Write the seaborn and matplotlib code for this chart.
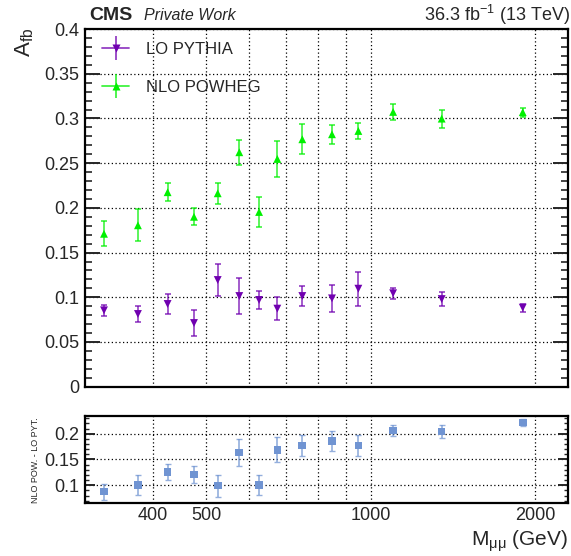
import matplotlib
matplotlib.use("Agg")
import pandas as pd
import matplotlib.pyplot as plt
import seaborn as sns
from matplotlib.lines import Line2D
from matplotlib.legend_handler import HandlerTuple
from matplotlib.ticker import FixedLocator, FixedFormatter, MultipleLocator, NullLocator

# bin centres in M_mumu (GeV)
mass = [325, 375, 425, 475, 525, 575, 625, 675, 750, 850, 950, 1100, 1350, 1900]

afb_lo = [0.0854, 0.0813, 0.0925, 0.0712, 0.1193, 0.1014, 0.0970, 0.0873,
          0.1014, 0.0988, 0.1096, 0.1045, 0.0980, 0.0884]
err_lo = [0.0065, 0.0088, 0.0115, 0.0143, 0.0180, 0.0205, 0.0105, 0.0125,
          0.0113, 0.0150, 0.0190, 0.0060, 0.0080, 0.0045]

afb_nlo = [0.1710, 0.1805, 0.2175, 0.1900, 0.2163, 0.2622, 0.1954, 0.2547,
           0.2767, 0.2823, 0.2860, 0.3073, 0.2998, 0.3070]
err_nlo = [0.0140, 0.0180, 0.0100, 0.0095, 0.0115, 0.0140, 0.0170, 0.0200,
           0.0170, 0.0105, 0.0090, 0.0090, 0.0100, 0.0050]

diff = [0.0875, 0.1006, 0.1260, 0.1207, 0.0992, 0.1636, 0.1006, 0.1688,
        0.1770, 0.1858, 0.1770, 0.2065, 0.2040, 0.2220]
err_diff = [0.0155, 0.0200, 0.0155, 0.0170, 0.0215, 0.0255, 0.0200, 0.0240,
            0.0210, 0.0190, 0.0210, 0.0110, 0.0125, 0.0065]

x_grid = [400, 500, 600, 700, 800, 900, 1000, 2000]
x_labels = ["400", "500", "", "", "", "", "1000", "2000"]

PURPLE = "#7000b0"
GREEN = "#00f000"
BLUE = "#7094d2"

sns.set_style("ticks")
plt.rcParams["font.family"] = ["Liberation Sans", "DejaVu Sans"]
plt.rcParams["mathtext.default"] = "regular"
plt.rcParams["axes.linewidth"] = 1.6

df = pd.DataFrame({"mass": mass, "lo": afb_lo, "nlo": afb_nlo, "diff": diff})

fig = plt.figure(figsize=(5.71, 5.56), dpi=100)
ax = fig.add_axes([0.1489, 0.3045, 0.8459, 0.6433])
ax2 = fig.add_axes([0.1489, 0.0948, 0.8459, 0.1576])

# --- main panel
ax.errorbar(mass, afb_lo, yerr=err_lo, fmt="none", ecolor=PURPLE, elinewidth=1.2,
            capsize=2.5, capthick=1.2, alpha=0.75, zorder=2)
ax.errorbar(mass, afb_nlo, yerr=err_nlo, fmt="none", ecolor=GREEN, elinewidth=1.2,
            capsize=2.5, capthick=1.2, alpha=0.75, zorder=2)
sns.scatterplot(data=df, x="mass", y="lo", marker="v", color=PURPLE, s=32,
                edgecolor="none", ax=ax, zorder=3, legend=False)
sns.scatterplot(data=df, x="mass", y="nlo", marker="^", color=GREEN, s=32,
                edgecolor="none", ax=ax, zorder=3, legend=False)

# --- lower panel
ax2.errorbar(mass, diff, yerr=err_diff, fmt="none", ecolor=BLUE, elinewidth=1.2,
             capsize=2.0, capthick=1.0, alpha=0.75, zorder=2)
sns.scatterplot(data=df, x="mass", y="diff", marker="s", color=BLUE, s=30,
                edgecolor="none", ax=ax2, zorder=3, legend=False)

for a in (ax, ax2):
    a.set_xscale("log")
    a.set_xlim(300, 2300)
    a.xaxis.set_major_locator(FixedLocator(x_grid))
    a.xaxis.set_minor_locator(NullLocator())
    a.grid(True, which="major", color="black", linestyle=(0, (1, 2)), linewidth=0.9)
    a.set_xlabel("")
    a.set_ylabel("")
    a.tick_params(axis="x", length=0)
    for s in a.spines.values():
        s.set_color("black")

ax.xaxis.set_major_formatter(FixedFormatter([""] * len(x_grid)))
ax2.xaxis.set_major_formatter(FixedFormatter(x_labels))

ax.set_ylim(0, 0.4)
ax.set_yticks([0, 0.05, 0.1, 0.15, 0.2, 0.25, 0.3, 0.35, 0.4])
ax.set_yticklabels(["0", "0.05", "0.1", "0.15", "0.2", "0.25", "0.3", "0.35", "0.4"])
ax.yaxis.set_minor_locator(MultipleLocator(0.01))
ax.tick_params(axis="y", which="major", direction="in", length=11, width=1.4,
               right=True, labelsize=13, pad=4)
ax.tick_params(axis="y", which="minor", direction="in", length=5, width=1.2, right=True)

ax2.set_ylim(0.065, 0.235)
ax2.set_yticks([0.1, 0.15, 0.2])
ax2.set_yticklabels(["0.1", "0.15", "0.2"])
ax2.yaxis.set_minor_locator(MultipleLocator(0.01))
ax2.tick_params(axis="y", which="major", direction="in", length=7, width=1.4,
                right=True, labelsize=13, pad=4)
ax2.tick_params(axis="y", which="minor", direction="in", length=3, width=1.0, right=True)
ax2.tick_params(axis="x", labelsize=13, pad=3)

# legend: marker with vertical + horizontal error bar, overlaid
def entry(color, marker):
    hline = Line2D([], [], color=color, lw=1.3, alpha=0.75)
    vline = Line2D([], [], color=color, marker="|", markersize=17, mew=1.3, lw=0, alpha=0.75)
    mk = Line2D([], [], color=color, marker=marker, markersize=6, lw=0, mec="none")
    return (hline, vline, mk)

ax.legend([entry(PURPLE, "v"), entry(GREEN, "^")], ["LO PYTHIA", "NLO POWHEG"],
          handler_map={tuple: HandlerTuple(ndivide=1, pad=0)},
          loc="upper left", bbox_to_anchor=(0.036, 0.965), frameon=False,
          fontsize=12, handlelength=1.6, handletextpad=1.0, labelspacing=1.4,
          borderpad=0, borderaxespad=0)

# header texts
W, H = 571.0, 556.0
fig.text(89 / W, 1 - 15 / H, "CMS", fontsize=14, fontweight="bold", ha="left", va="center")
fig.text(144 / W, 1 - 16 / H, "Private Work", fontsize=11.5, style="italic", ha="left", va="center")
fig.text(570 / W, 1 - 15 / H, "36.3 fb$^{-1}$ (13 TeV)", fontsize=13, ha="right", va="center")

fig.text(25 / W, 1 - 28 / H, "A$_{fb}$", fontsize=16, rotation=90, ha="center", va="top")
fig.text(35 / W, 1 - 460 / H, "NLO POW. - LO PYT.", fontsize=6.5, rotation=90,
         ha="center", va="center")
fig.text(568 / W, 1 - 541 / H, "M$_{μμ}$ (GeV)", fontsize=15, ha="right", va="center")

fig.savefig("out.png", dpi=100)
plt.close(fig)
